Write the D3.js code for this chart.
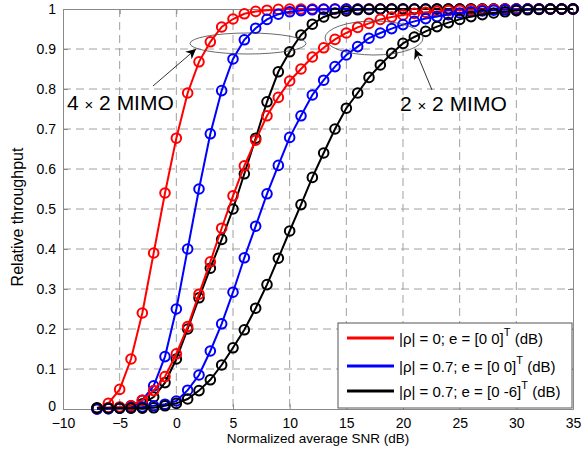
<!DOCTYPE html>
<html>
<head>
<meta charset="utf-8">
<script src="https://cdn.jsdelivr.net/npm/d3@7"></script>
<style>
  body { margin: 0; background: #fff; }
  text { font-family: "Liberation Sans", Arial, sans-serif; fill: #000; }
  .grid line { stroke: #a0a0a0; stroke-dasharray: 8,5; stroke-width: 1; }
</style>
</head>
<body>
<svg id="chart" width="581" height="455"></svg>
<script>
'use strict'

// SNR points (dB), one marker per dB
var snr = d3.range(-7, 36)

var xTicks = [-10, -5, 0, 5, 10, 15, 20, 25, 30, 35]
var yTicks = [0, 0.1, 0.2, 0.3, 0.4, 0.5, 0.6, 0.7, 0.8, 0.9, 1]

// 4x2 MIMO
var red4x2 = [0.002, 0.014, 0.049, 0.125, 0.24, 0.39, 0.54, 0.677, 0.79, 0.868, 0.918, 0.955, 0.975, 0.988, 0.994, 0.997, 0.999,
  1, 1, 1, 1, 1, 1, 1, 1, 1, 1, 1, 1, 1, 1, 1, 1, 1, 1, 1, 1, 1, 1, 1, 1, 1, 1]
var blue4x2 = [0.0, 0.001, 0.003, 0.008, 0.022, 0.058, 0.131, 0.25, 0.40, 0.55, 0.688, 0.796, 0.875, 0.923, 0.952, 0.974, 0.987,
  0.993, 0.996, 0.998, 0.999, 1, 1, 1, 1, 1, 1, 1, 1, 1, 1, 1, 1, 1, 1, 1, 1, 1, 1, 1, 1, 1, 1]
var black4x2 = [0.003, 0.003, 0.004, 0.006, 0.013, 0.03, 0.066, 0.125, 0.2, 0.278, 0.352, 0.424, 0.50, 0.588, 0.677, 0.768, 0.843,
  0.893, 0.935, 0.962, 0.98, 0.99, 0.995, 0.998, 0.999, 1, 1, 1, 1, 1, 1, 1, 1, 1, 1, 1, 1, 1, 1, 1, 1, 1, 1]

// 2x2 MIMO
var red2x2 = [0.001, 0.003, 0.005, 0.008, 0.022, 0.046, 0.081, 0.138, 0.206, 0.287, 0.368, 0.452, 0.533, 0.608, 0.672, 0.733, 0.779,
  0.82, 0.85, 0.88, 0.903, 0.924, 0.94, 0.954, 0.964, 0.974, 0.98, 0.985, 0.989, 0.992, 0.994, 0.996, 0.997, 0.998, 0.999,
  1, 1, 1, 1, 1, 1, 1, 1]
var blue2x2 = [0.0, 0.001, 0.002, 0.003, 0.005, 0.008, 0.012, 0.02, 0.047, 0.085, 0.145, 0.213, 0.292, 0.378, 0.457, 0.538, 0.609,
  0.679, 0.733, 0.785, 0.822, 0.856, 0.885, 0.906, 0.927, 0.94, 0.951, 0.961, 0.969, 0.976, 0.981, 0.986, 0.99, 0.993, 0.995,
  0.997, 0.998, 0.999, 1, 1, 1, 1, 1]
var black2x2 = [0.002, 0.002, 0.002, 0.002, 0.002, 0.003, 0.008, 0.014, 0.025, 0.046, 0.073, 0.11, 0.153, 0.198, 0.252, 0.311, 0.377,
  0.445, 0.511, 0.579, 0.64, 0.70, 0.752, 0.79, 0.829, 0.86, 0.889, 0.914, 0.93, 0.944, 0.956, 0.966, 0.974, 0.981, 0.986,
  0.99, 0.993, 0.996, 0.998, 0.999, 1, 1, 1]

var legendLabels = [
  ['|ρ| = 0; e = [0 0]', ' (dB)'],
  ['|ρ| = 0.7; e = [0 0]', ' (dB)'],
  ['|ρ| = 0.7; e = [0 -6]', ' (dB)']
]
var colors = ['#ff0000', '#0000ff', '#000000']

// drawing order: 4x2 first, then 2x2
var series = [
  {values: red4x2, color: colors[0]},
  {values: blue4x2, color: colors[1]},
  {values: black4x2, color: colors[2]},
  {values: red2x2, color: colors[0]},
  {values: blue2x2, color: colors[1]},
  {values: black2x2, color: colors[2]}
]

var svg = d3.select('#chart'),
    margin = {top: 9, right: 8, bottom: 46, left: 63},
    width = svg.attr('width') - margin.left - margin.right,
    height = svg.attr('height') - margin.top - margin.bottom

var x = d3.scaleLinear().domain([-10, 35]).range([0, width])
var y = d3.scaleLinear().domain([0, 1]).range([height, 0])

var g = svg.append('g')
    .attr('transform', 'translate(' + margin.left + ',' + margin.top + ')')

// grid
var grid = g.append('g').attr('class', 'grid')
grid.selectAll('.vx')
  .data(xTicks.slice(1, -1))
  .enter().append('line')
    .attr('x1', d => x(d)).attr('x2', d => x(d))
    .attr('y1', 0).attr('y2', height)
grid.selectAll('.hy')
  .data(yTicks.slice(1, -1))
  .enter().append('line')
    .attr('x1', 0).attr('x2', width)
    .attr('y1', d => y(d)).attr('y2', d => y(d))

// axes (ticks inside, like matlab)
var axisColor = '#8a8a8a'
var xAxis = g.append('g')
    .attr('transform', 'translate(0,' + height + ')')
    .call(d3.axisBottom(x).tickValues(xTicks).tickSize(-5).tickPadding(9).tickFormat(d3.format('d')))
var yAxis = g.append('g')
    .call(d3.axisLeft(y).tickValues(yTicks).tickSize(-5).tickPadding(7).tickFormat(d => d === 0 || d === 1 ? d : d3.format('.1f')(d)))
var xTop = g.append('g')
    .call(d3.axisTop(x).tickValues(xTicks).tickSize(-5).tickFormat(''))
var yRight = g.append('g')
    .attr('transform', 'translate(' + width + ',0)')
    .call(d3.axisRight(y).tickValues(yTicks).tickSize(-5).tickFormat(''))

;[xAxis, yAxis, xTop, yRight].forEach(a => {
  a.selectAll('path, line').attr('stroke', axisColor)
  a.selectAll('text').style('font-size', '14px').style('font-family', '"Liberation Sans", Arial, sans-serif').attr('fill', '#000')
})
// keep the "0" on the y axis clear of the "-10" below it
yAxis.selectAll('.tick').filter(d => d === 0).select('text').attr('dy', '0.1em')

// curves
var line = d3.line()
    .x((d, i) => x(snr[i]))
    .y(d => y(d))

series.forEach(s => {
  var sg = g.append('g')
  sg.append('path')
    .datum(s.values)
    .attr('d', line)
    .attr('fill', 'none')
    .attr('stroke', s.color)
    .attr('stroke-width', 2)
  sg.selectAll('circle')
    .data(s.values)
    .enter().append('circle')
      .attr('cx', (d, i) => x(snr[i]))
      .attr('cy', d => y(d))
      .attr('r', 4.8)
      .attr('fill', 'none')
      .attr('stroke', s.color)
      .attr('stroke-width', 2)
})

// annotations
var defs = svg.append('defs')
defs.append('marker')
    .attr('id', 'arrow')
    .attr('viewBox', '0 0 10 10')
    .attr('refX', 10).attr('refY', 5)
    .attr('markerWidth', 10).attr('markerHeight', 10)
    .attr('markerUnits', 'userSpaceOnUse')
    .attr('orient', 'auto')
  .append('path')
    .attr('d', 'M0,0 L10,5 L0,10 L3,5 Z')
    .attr('fill', '#000')

var ann = svg.append('g')
ann.append('ellipse')
    .attr('cx', 248).attr('cy', 43.5).attr('rx', 58).attr('ry', 10.5)
    .attr('fill', 'none').attr('stroke', '#444').attr('stroke-width', 0.8)
ann.append('ellipse')
    .attr('cx', 374).attr('cy', 38).attr('rx', 49).attr('ry', 17)
    .attr('fill', 'none').attr('stroke', '#444').attr('stroke-width', 0.8)
ann.append('line')
    .attr('x1', 153).attr('y1', 86).attr('x2', 196).attr('y2', 49)
    .attr('stroke', '#000').attr('stroke-width', 0.8)
    .attr('marker-end', 'url(#arrow)')
ann.append('line')
    .attr('x1', 432).attr('y1', 90).attr('x2', 415).attr('y2', 49)
    .attr('stroke', '#000').attr('stroke-width', 0.8)
    .attr('marker-end', 'url(#arrow)')

function mimoLabel(tx, ty, n) {
  var t = ann.append('text').attr('x', tx).attr('y', ty).style('font-size', '21px')
  t.append('tspan').text(n + ' ')
  t.append('tspan').style('font-size', '15px').text('×')
  t.append('tspan').text(' 2 MIMO')
}
mimoLabel(67, 110, '4')
mimoLabel(400, 111, '2')

// legend
var lg = svg.append('g').attr('transform', 'translate(338,323)')
lg.append('rect')
    .attr('width', 234).attr('height', 85)
    .attr('fill', '#fff').attr('stroke', '#555').attr('stroke-width', 1)
var rows = lg.selectAll('.row')
  .data(legendLabels)
  .enter().append('g')
    .attr('transform', (d, i) => 'translate(0,' + [15, 43, 68][i] + ')')
rows.append('line')
    .attr('x1', 9).attr('x2', 56)
    .attr('stroke', (d, i) => colors[i]).attr('stroke-width', 3)
var lt = rows.append('text')
    .attr('x', 61).attr('y', 6)
    .style('font-size', '15px')
lt.append('tspan').text(d => d[0])
lt.append('tspan').attr('dy', -8).style('font-size', '11px').text('T')
lt.append('tspan').attr('dy', 8).text(d => d[1])

// axis labels
svg.append('text')
    .attr('x', margin.left + width / 2).attr('y', 443)
    .attr('text-anchor', 'middle')
    .style('font-size', '13.5px')
    .text('Normalized average SNR (dB)')
svg.append('text')
    .attr('transform', 'translate(23,217) rotate(-90)')
    .attr('text-anchor', 'middle')
    .style('font-size', '16px')
    .text('Relative throughput')
</script>
</body>
</html>
